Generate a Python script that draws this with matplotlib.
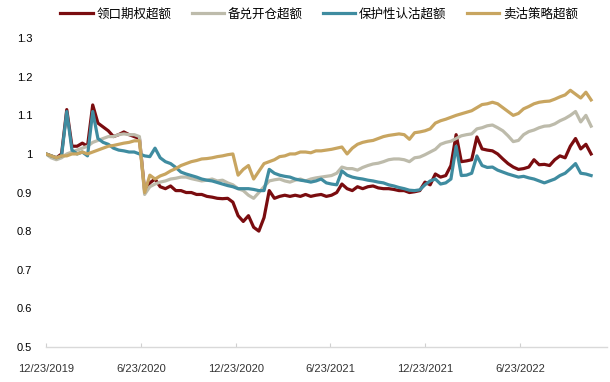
import matplotlib.pyplot as plt
import matplotlib.dates as mdates
import pandas as pd

plt.rcParams['font.family'] = ['Liberation Sans', 'Noto Sans CJK SC', 'DejaVu Sans']

# series names (legend order)
names = ['领口期权超额', '备兑开仓超额', '保护性认沽超额', '卖沽策略超额']
colors = ['#7a0c0f', '#bdbbab', '#3f8ca0', '#c8a560']

# values, one point every ~10 days from 12/23/2019
collar = [1.0, 0.995, 0.99, 1.0, 1.115, 1.02, 1.02, 1.028, 1.02, 1.127,
          1.08, 1.07, 1.06, 1.045, 1.05, 1.057, 1.05, 1.045, 1.04, 0.905,
          0.925, 0.935, 0.915, 0.91, 0.917, 0.905, 0.905, 0.9, 0.9, 0.895,
          0.895, 0.89, 0.888, 0.885, 0.884, 0.885, 0.875, 0.84, 0.825, 0.84,
          0.81, 0.80, 0.835, 0.905, 0.885, 0.89, 0.893, 0.89, 0.893, 0.89,
          0.895, 0.89, 0.893, 0.895, 0.89, 0.893, 0.9, 0.922, 0.91, 0.905,
          0.915, 0.91, 0.915, 0.917, 0.912, 0.91, 0.91, 0.908, 0.905, 0.905,
          0.9, 0.902, 0.905, 0.927, 0.92, 0.948, 0.94, 0.944, 0.97, 1.05,
          0.98, 0.982, 0.985, 1.044, 1.013, 1.01, 1.008, 1.0, 0.987, 0.975,
          0.966, 0.96, 0.962, 0.966, 0.985, 0.972, 0.973, 0.97, 0.985, 0.995,
          0.99, 1.02, 1.04, 1.013, 1.025, 1.0]

covered = [1.0, 0.99, 0.985, 0.99, 1.0, 1.005, 1.01, 1.015, 1.02, 1.03,
           1.035, 1.04, 1.045, 1.045, 1.05, 1.052, 1.05, 1.05, 1.045, 0.895,
           0.915, 0.922, 0.927, 0.93, 0.935, 0.937, 0.94, 0.94, 0.936, 0.933,
           0.93, 0.932, 0.935, 0.93, 0.932, 0.925, 0.92, 0.91, 0.905, 0.893,
           0.885, 0.9, 0.915, 0.93, 0.933, 0.935, 0.93, 0.927, 0.932, 0.935,
           0.93, 0.935, 0.938, 0.94, 0.942, 0.944, 0.95, 0.966, 0.962, 0.962,
           0.958, 0.965, 0.97, 0.974, 0.976, 0.98, 0.985, 0.987, 0.987, 0.985,
           0.98, 0.99, 0.992, 0.998, 1.005, 1.012, 1.025, 1.03, 1.033, 1.04,
           1.047, 1.05, 1.052, 1.065, 1.068, 1.073, 1.075, 1.068, 1.06, 1.047,
           1.032, 1.035, 1.05, 1.058, 1.062, 1.068, 1.072, 1.073, 1.078, 1.086,
           1.092, 1.1, 1.11, 1.083, 1.1, 1.072]

protective = [1.0, 0.995, 0.99, 0.995, 1.11, 1.01, 1.0, 1.005, 0.995, 1.11,
              1.04, 1.03, 1.025, 1.015, 1.01, 1.008, 1.005, 1.005, 1.0, 0.995,
              0.993, 1.015, 0.99, 0.98, 0.975, 0.965, 0.953, 0.948, 0.944, 0.94,
              0.935, 0.932, 0.93, 0.926, 0.922, 0.918, 0.915, 0.91, 0.91, 0.91,
              0.908, 0.905, 0.905, 0.96, 0.95, 0.945, 0.942, 0.94, 0.935, 0.932,
              0.93, 0.927, 0.93, 0.935, 0.925, 0.922, 0.92, 0.956, 0.945, 0.94,
              0.937, 0.935, 0.932, 0.93, 0.927, 0.925, 0.92, 0.917, 0.913, 0.91,
              0.906, 0.905, 0.907, 0.92, 0.93, 0.935, 0.922, 0.925, 0.935, 1.02,
              0.944, 0.945, 0.95, 0.995, 0.97, 0.965, 0.966, 0.958, 0.953, 0.948,
              0.944, 0.94, 0.942, 0.938, 0.935, 0.93, 0.925, 0.93, 0.935, 0.944,
              0.95, 0.962, 0.975, 0.95, 0.948, 0.944]

short_put = [1.0, 0.995, 0.99, 0.995, 0.995, 1.0, 1.0, 1.005, 1.0, 1.005,
             1.01, 1.015, 1.02, 1.022, 1.025, 1.028, 1.03, 1.034, 1.034, 0.9,
             0.945, 0.935, 0.943, 0.948, 0.956, 0.962, 0.97, 0.975, 0.98, 0.983,
             0.987, 0.988, 0.99, 0.993, 0.995, 0.998, 1.0, 0.945, 0.96, 0.97,
             0.935, 0.955, 0.975, 0.98, 0.985, 0.993, 0.995, 1.0, 1.0, 1.005,
             1.005, 1.003, 1.008, 1.008, 1.01, 1.012, 1.015, 1.018, 1.0, 1.015,
             1.025, 1.03, 1.033, 1.035, 1.04, 1.045, 1.048, 1.05, 1.052, 1.05,
             1.038, 1.055, 1.057, 1.06, 1.065, 1.08, 1.086, 1.09, 1.095, 1.1,
             1.104, 1.108, 1.112, 1.12, 1.128, 1.13, 1.134, 1.13, 1.12, 1.11,
             1.1, 1.105, 1.117, 1.123, 1.13, 1.134, 1.136, 1.137, 1.142, 1.148,
             1.153, 1.165, 1.155, 1.145, 1.16, 1.14]

dates = pd.date_range('2019-12-23', periods=len(collar), freq='10D')
tick_dates = ['2019-12-23', '2020-06-23', '2020-12-23', '2021-06-23', '2021-12-23', '2022-06-23']
tick_labels = ['12/23/2019', '6/23/2020', '12/23/2020', '6/23/2021', '12/23/2021', '6/23/2022']
yticks = [0.5, 0.6, 0.7, 0.8, 0.9, 1.0, 1.1, 1.2, 1.3]
ylabels = ['0.5', '0.6', '0.7', '0.8', '0.9', '1', '1.1', '1.2', '1.3']

fig = plt.figure(figsize=(6.1, 3.82), dpi=100)
ax = fig.add_axes([0.0754, 0.092, 0.92, 0.808])

for s, name, c in zip([collar, covered, protective, short_put], names, colors):
    ax.plot(dates, s, color=c, lw=2.3, label=name, solid_joinstyle='round')

ax.set_ylim(0.5, 1.3)
ax.set_xlim(pd.Timestamp('2019-12-23'), pd.Timestamp('2022-12-08'))
ax.set_yticks(yticks)
ax.set_yticklabels(ylabels, fontsize=8)
ax.set_xticks(pd.to_datetime(tick_dates))
ax.set_xticklabels(tick_labels, fontsize=8, color='#333333')
ax.tick_params(axis='y', length=0, pad=10)
ax.tick_params(axis='x', direction='in', length=3, color='#d0d0d0', pad=12)

for sp in ['top', 'right', 'left']:
    ax.spines[sp].set_visible(False)
ax.spines['bottom'].set_color('#d9d9d9')
ax.spines['bottom'].set_linewidth(1)

fig.legend(loc='center', bbox_to_anchor=(0.523, 0.963), ncol=4, frameon=False,
           prop={'family': ['Noto Sans CJK SC', 'DejaVu Sans'], 'size': 9},
           handlelength=2.6, columnspacing=1.6, handletextpad=0.3)

fig.savefig('out.png', dpi=100)
